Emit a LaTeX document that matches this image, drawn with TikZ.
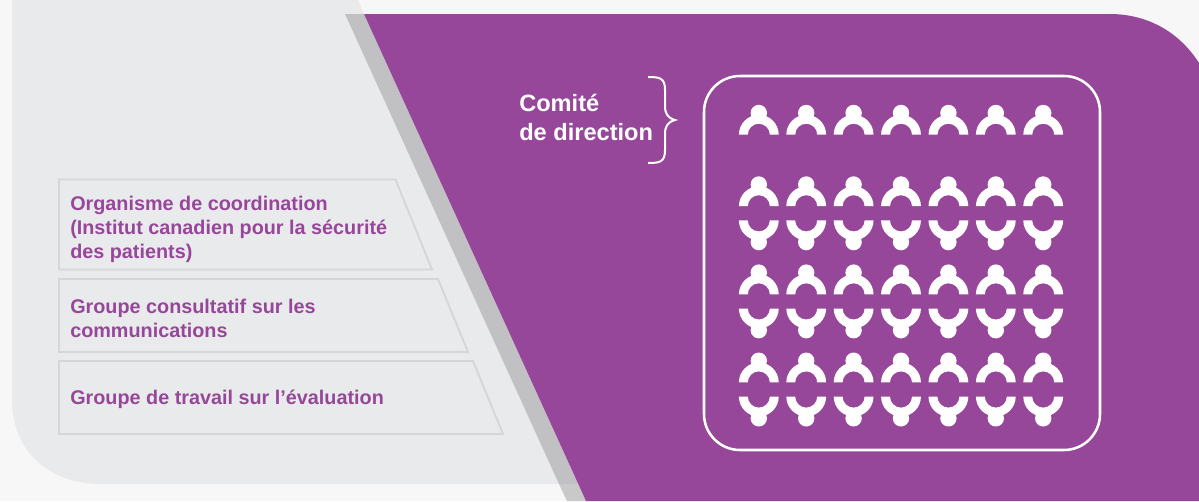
\documentclass[tikz,border=0pt]{standalone}
\usepackage{fontspec}
\setmainfont{Liberation Sans}
\definecolor{bgc}{HTML}{F7F7F7}
\definecolor{pale}{HTML}{E9EAEC}
\definecolor{purp}{HTML}{97479A}
\definecolor{band}{HTML}{C1C1C3}
\definecolor{bandlow}{HTML}{C9C9C9}
\definecolor{edgec}{HTML}{D5D6D8}
\tikzset{
  tier/.style={draw=edgec,line width=1.4pt,fill=pale,line join=miter},
  tierlabel/.style={anchor=west,align=left,inner sep=0pt,text=purp,font=\fontsize{14.85pt}{18pt}\selectfont\bfseries},
  whitelabel/.style={anchor=west,align=left,inner sep=0pt,text=white,font=\fontsize{17.7pt}{22pt}\selectfont\bfseries},
  person/.pic={
    \fill[white] (-19.9,0) arc[start angle=180,end angle=360,radius=19.9]
       -- (11,0) arc[start angle=360,end angle=180,radius=11] -- cycle;
    \fill[white] (0,-21.7) circle[radius=8.2];
  }
}
\begin{document}
\begin{tikzpicture}[x=0.75pt,y=-0.75pt]
\useasboundingbox (0,0) rectangle (1199,501);
\fill[bgc] (0,0) rectangle (1199,501);
% pale panel
\fill[pale] (12,0) -- (358,0) -- (364,14) -- (578,484) -- (101,484)
  .. controls (48,484) and (12,450) .. (12,400) -- cycle;
% band
\fill[band] (345,14) -- (364,14) -- (578,484) -- (559,484) -- cycle;
\fill[bandlow] (559,484) -- (578,484) -- (586,501) -- (567,501) -- cycle;
% purple panel
\fill[purp] (364,14) -- (1110,14) .. controls (1145,14) and (1178,30) .. (1199,63)
  -- (1199,501) -- (586,501) -- cycle;
% tiers
\draw[tier] (59,179.5) -- (395.5,179.5) -- (432,269.5) -- (59,269.5) -- cycle;
\draw[tier] (59,279) -- (438,279) -- (468,352) -- (59,352) -- cycle;
\draw[tier] (59,361) -- (473,361) -- (503,434) -- (59,434) -- cycle;
\node[tierlabel] (coord) at (70,229) {Organisme de coordination\\(Institut canadien pour la sécurité\\des patients)};
\node[tierlabel] (comm) at (70,318) {Groupe consultatif sur les\\communications};
\node[tierlabel] (eval) at (70,399) {Groupe de travail sur l’évaluation};
% committee
\node[whitelabel] (comite) at (519,117.5) {Comité\\de direction};
\draw[white,line width=1.5pt] (648,77) .. controls (660,77) and (665,78) .. (665,90) -- (665,106)
  .. controls (665,114) and (668,118) .. (675,120)
  .. controls (668,122) and (665,126) .. (665,134) -- (665,150)
  .. controls (665,162) and (660,163) .. (648,163);
\draw[white,line width=1.9pt,rounded corners=27pt] (704,76) rectangle (1100,450);
\foreach \c in {0,...,6}{
  \pgfmathsetmacro{\cx}{758.8+47.4*\c}
  \pic at (\cx,134.7) {person};
  \foreach \ax in {213.3,301.4,389.5}{
    \pic at (\cx,\ax-7.1) {person};
    \pic[yscale=-1] at (\cx,\ax+7.1) {person};
  }
}
\end{tikzpicture}
\end{document}
